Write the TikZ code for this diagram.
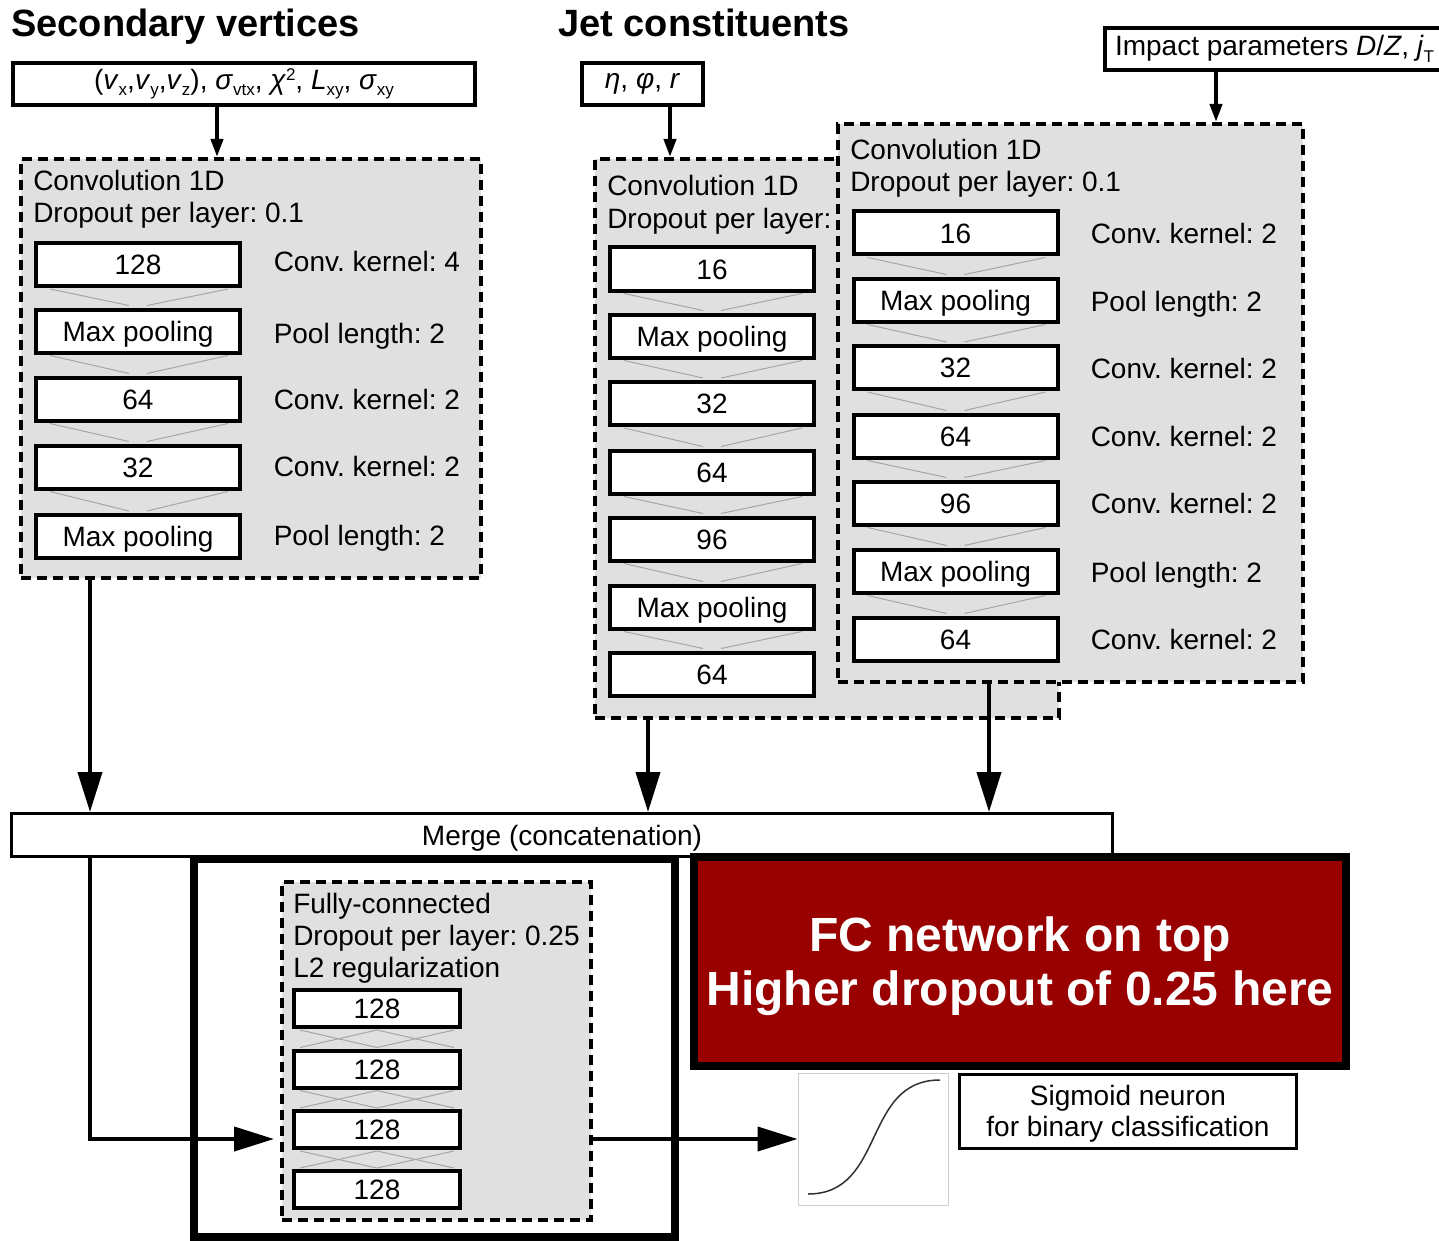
\documentclass[tikz,border=0pt]{standalone}
\usepackage{fontspec}
\setmainfont{Liberation Sans}
\usetikzlibrary{arrows.meta,calc}
\frenchspacing

\tikzset{every picture/.style={line width=0.75pt}}
\tikzset{
  txt/.style={font=\fontsize{14}{16}\selectfont, inner sep=0.75pt},
  titletext/.style={font=\fontsize{19}{22}\selectfont\bfseries, inner sep=0.75pt, anchor=base west},
  inputbox/.style={draw, line width=2pt, fill=white, minimum height=21pt, inner sep=0pt, txt},
  convgroup/.style={draw, line width=2pt, dash pattern=on 5pt off 3pt, fill={rgb, 255:red, 224; green, 224; blue, 224}, inner sep=0pt},
  layerbox/.style={draw, line width=2pt, fill=white, minimum width=102pt, minimum height=21.5pt, txt, inner sep=0pt, text height=10pt, text depth=0pt},
  fcbox/.style={layerbox, minimum width=83pt, minimum height=18.5pt},
  sidelabel/.style={txt, anchor=west, text height=10pt, text depth=0pt},
  grouphead/.style={txt, anchor=base west},
  thinlink/.style={line width=0.5pt, draw={rgb, 255:red, 165; green, 165; blue, 165}},
  smallarrow/.style={line width=2pt, -{Triangle[length=9pt,width=6pt]}},
  bigarrow/.style={line width=2pt, -{Triangle[length=20pt,width=12pt]}},
}

% small lowered index
\newcommand\lowidx[1]{\raisebox{-0.45ex}{\fontsize{8.5}{9}\selectfont #1}}
% gray lines between two conv layers
\newcommand\convlink[2]{%
  \draw [thinlink] ($(#1.south west)+(16,1)$) -- ($(#2.north)+(-9,-2)$);
  \draw [thinlink] ($(#1.south east)+(-14,1)$) -- ($(#2.north)+(9,-2)$);}
% crossed lines between two dense layers
\newcommand\fclink[2]{%
  \draw [thinlink] ($(#1.south west)+(8,1)$) -- ($(#2.north)+(0,-1)$);
  \draw [thinlink] ($(#1.south)+(0,1)$) -- ($(#2.north west)+(8,-1)$);
  \draw [thinlink] ($(#1.south)+(0,1)$) -- ($(#2.north east)+(-8,-1)$);
  \draw [thinlink] ($(#1.south east)+(-8,1)$) -- ($(#2.north)+(0,-1)$);}

\begin{document}
\begin{tikzpicture}[x=0.5pt,y=0.5pt,yscale=-1,xscale=1]
\useasboundingbox (0,0) rectangle (1439,1241);
\clip (0,0) rectangle (1439,1241);

% Text Node
\node [titletext] (tSV) at (9,37) {Secondary vertices};
% Text Node
\node [titletext] (tJet) at (556,37) {Jet constituents};

%Shape: Rectangle
\node [inputbox, minimum width=231pt] (inSV) at (244,84) {(\textit{v}\lowidx{x},\textit{v}\lowidx{y},\textit{v}\lowidx{z}), \textit{σ}\lowidx{vtx}, \textit{χ}\raisebox{0.6ex}{\fontsize{8.5}{9}\selectfont 2}, \textit{L}\lowidx{xy}, \textit{σ}\lowidx{xy}};
%Shape: Rectangle
\node [inputbox, minimum width=60.5pt] (inJet) at (642.5,84) {\textit{η}, \textit{φ}, \textit{r}};
%Shape: Rectangle
\node [inputbox, anchor=west, inner xsep=5pt] (inImp) at (1103,49) {Impact parameters \textit{D}/\textit{Z}, \textit{j}\lowidx{T}};

%Shape: Rectangle
\node [convgroup, minimum width=230pt, minimum height=209.5pt] (convL) at (251,368.5) {};
%Shape: Rectangle
\node [convgroup, minimum width=232pt, minimum height=279.5pt] (convJ) at (827,438.5) {};
% Text Node
\node [grouphead] (hJ1) at (605,196) {Convolution 1D};
% Text Node
\node [grouphead] (hJ2) at (605,228) {Dropout per layer:};
%Shape: Rectangle
\node [convgroup, minimum width=232.5pt, minimum height=279pt] (convR) at (1070.5,403) {};

% Text Node
\node [grouphead] (hL1) at (31,191) {Convolution 1D};
% Text Node
\node [grouphead] (hL2) at (31,223) {Dropout per layer: 0.1};
% Text Node
\node [grouphead] (hR1) at (848,160) {Convolution 1D};
% Text Node
\node [grouphead] (hR2) at (848,192) {Dropout per layer: 0.1};

%Secondary vertices layers
\node [layerbox] (L1) at (138,264.5) {128};
\node [layerbox] (L2) at (138,331) {Max pooling};
\node [layerbox] (L3) at (138,399) {64};
\node [layerbox] (L4) at (138,467) {32};
\node [layerbox] (L5) at (138,536.5) {Max pooling};
\convlink{L1}{L2}
\convlink{L2}{L3}
\convlink{L3}{L4}
\convlink{L4}{L5}
\node [sidelabel] (sL1) at (271.5,261) {Conv. kernel: 4};
\node [sidelabel] (sL2) at (271.5,333) {Pool length: 2};
\node [sidelabel] (sL3) at (271.5,399) {Conv. kernel: 2};
\node [sidelabel] (sL4) at (271.5,466) {Conv. kernel: 2};
\node [sidelabel] (sL5) at (271.5,535) {Pool length: 2};

%Jet constituents layers
\node [layerbox] (J1) at (712,269) {16};
\node [layerbox] (J2) at (712,336) {Max pooling};
\node [layerbox] (J3) at (712,403.5) {32};
\node [layerbox] (J4) at (712,472) {64};
\node [layerbox] (J5) at (712,539) {96};
\node [layerbox] (J6) at (712,607) {Max pooling};
\node [layerbox] (J7) at (712,674) {64};
\convlink{J1}{J2}
\convlink{J2}{J3}
\convlink{J3}{J4}
\convlink{J4}{J5}
\convlink{J5}{J6}
\convlink{J6}{J7}

%Impact parameter layers
\node [layerbox] (R1) at (955.5,233) {16};
\node [layerbox] (R2) at (955.5,300) {Max pooling};
\node [layerbox] (R3) at (955.5,367.5) {32};
\node [layerbox] (R4) at (955.5,436) {64};
\node [layerbox] (R5) at (955.5,503) {96};
\node [layerbox] (R6) at (955.5,571) {Max pooling};
\node [layerbox] (R7) at (955.5,639) {64};
\convlink{R1}{R2}
\convlink{R2}{R3}
\convlink{R3}{R4}
\convlink{R4}{R5}
\convlink{R5}{R6}
\convlink{R6}{R7}
\node [sidelabel] (sR1) at (1088.5,233) {Conv. kernel: 2};
\node [sidelabel] (sR2) at (1088.5,301) {Pool length: 2};
\node [sidelabel] (sR3) at (1088.5,368) {Conv. kernel: 2};
\node [sidelabel] (sR4) at (1088.5,436) {Conv. kernel: 2};
\node [sidelabel] (sR5) at (1088.5,503) {Conv. kernel: 2};
\node [sidelabel] (sR6) at (1088.5,572) {Pool length: 2};
\node [sidelabel] (sR7) at (1088.5,639) {Conv. kernel: 2};

%Straight Lines
\coordinate (aSV) at (217,157);
\coordinate (aJet) at (670,157);
\coordinate (aImp) at (1216,122);
\draw [smallarrow] (inSV.south -| aSV) -- (aSV);
\draw [smallarrow] (inJet.south -| aJet) -- (aJet);
\draw [smallarrow] (inImp.south -| aImp) -- (aImp);

%Straight Lines
\coordinate (mL) at (90,812);
\coordinate (mJ) at (648,812);
\coordinate (mR) at (989,812);
\draw [bigarrow] (convL.south -| mL) -- (mL);
\draw [bigarrow] (convJ.south -| mJ) -- (mJ);
\draw [bigarrow] (convR.south -| mR) -- (mR);

%Shape: Rectangle
\node [inputbox, line width=1.5pt, minimum width=550.5pt, minimum height=21.5pt, text height=10pt, text depth=0pt] (merge) at (562,835) {Merge (concatenation)};

%Shape: Rectangle
\node [draw, line width=4pt, minimum width=240.5pt, minimum height=189pt] (fcFrame) at (434.5,1048) {};
%Shape: Rectangle
\node [convgroup, minimum width=154.5pt, minimum height=169pt] (fcG) at (436.5,1051) {};
% Text Node
\node [grouphead] (hF1) at (291,913) {Fully-connected};
% Text Node
\node [grouphead] (hF2) at (291,945) {Dropout per layer: 0.25};
% Text Node
\node [grouphead] (hF3) at (291,977) {L2 regularization};

%Dense layers
\node [fcbox] (F1) at (377,1008.5) {128};
\node [fcbox] (F2) at (377,1069) {128};
\node [fcbox] (F3) at (377,1129.5) {128};
\node [fcbox] (F4) at (377,1189.5) {128};
\fclink{F1}{F2}
\fclink{F2}{F3}
\fclink{F3}{F4}

%Shape: Rectangle
\node [draw, line width=4pt, fill={rgb, 255:red, 153; green, 0; blue, 0}, minimum width=326pt, minimum height=104.5pt] (note) at (1020,961.5) {};
% Text Node
\node [text=white, align=center, font=\fontsize{24}{27}\selectfont\bfseries, inner sep=0.75pt] (noteText) at (1020,966.5) {FC network on top\\Higher dropout of 0.25 here};

%Shape: Sigmoid
\node [draw={rgb, 255:red, 205; green, 205; blue, 205}, line width=0.5pt, fill=white, minimum width=75pt, minimum height=66pt] (sig) at (873,1139) {};
\draw [line width=0.75pt, draw={rgb, 255:red, 50; green, 50; blue, 50}] (808,1194) .. controls (886,1194) and (862,1080) .. (940,1080);
%Shape: Rectangle
\node [inputbox, line width=1.5pt, minimum width=168.5pt, minimum height=37pt] (sigLabel) at (1128,1111.5) {};
% Text Node
\node [align=center, font=\fontsize{14}{15.5}\selectfont, inner sep=0.75pt] (sigText) at (1128,1114) {Sigmoid neuron\\for binary classification};

%Straight Lines
\draw [bigarrow] (merge.south -| mL) |- ($(fcG.west |- sig.west)+(-6,0)$);
\draw [bigarrow] (fcG.east |- sig.west) -- (sig.west);

\end{tikzpicture}
\end{document}
